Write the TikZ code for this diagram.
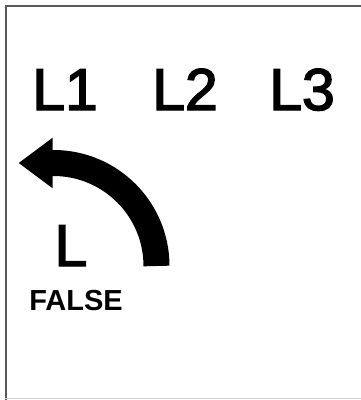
\documentclass[tikz,border=0pt]{standalone}
\usepackage{fontspec}
\setmainfont{Liberation Sans}
\newfontfamily\heavyfont{Liberation Sans}[FakeBold=2.5]
\usetikzlibrary{arrows.meta}

\begin{document}
\begin{tikzpicture}[x=1pt,y=1pt]
  \useasboundingbox (0,0) rectangle (361,-400);
  % frame
  \draw[line width=2pt,black!65] (361,-5.5) -- (5.5,-5.5) -- (5.5,-400);
  \draw[line width=1.5pt,black!18] (5,-398.5) -- (361,-398.5);
  % lane labels
  \node[font=\heavyfont\fontsize{59}{62}\selectfont,anchor=base,inner sep=0pt] (l1) at (65,-110) {L1};
  \node[font=\heavyfont\fontsize{59}{62}\selectfont,anchor=base,inner sep=0pt] (l2) at (185,-110) {L2};
  \node[font=\heavyfont\fontsize{59}{62}\selectfont,anchor=base,inner sep=0pt] (l3) at (302,-110) {L3};
  % turn arrow
  \coordinate (stem) at (156.5,-266);
  \draw[line width=26pt,-{Triangle[length=34pt,width=48pt]}]
    (stem) arc (0:90:103) -- ++(-35,0);
  \node[font=\heavyfont\fontsize{59}{62}\selectfont,anchor=base,inner sep=0pt] (lane) at (71,-266) {L};
  \node[font=\bfseries\fontsize{29}{32}\selectfont,anchor=base,inner sep=0pt] (state) at (76,-310) {FALSE};
\end{tikzpicture}
\end{document}
